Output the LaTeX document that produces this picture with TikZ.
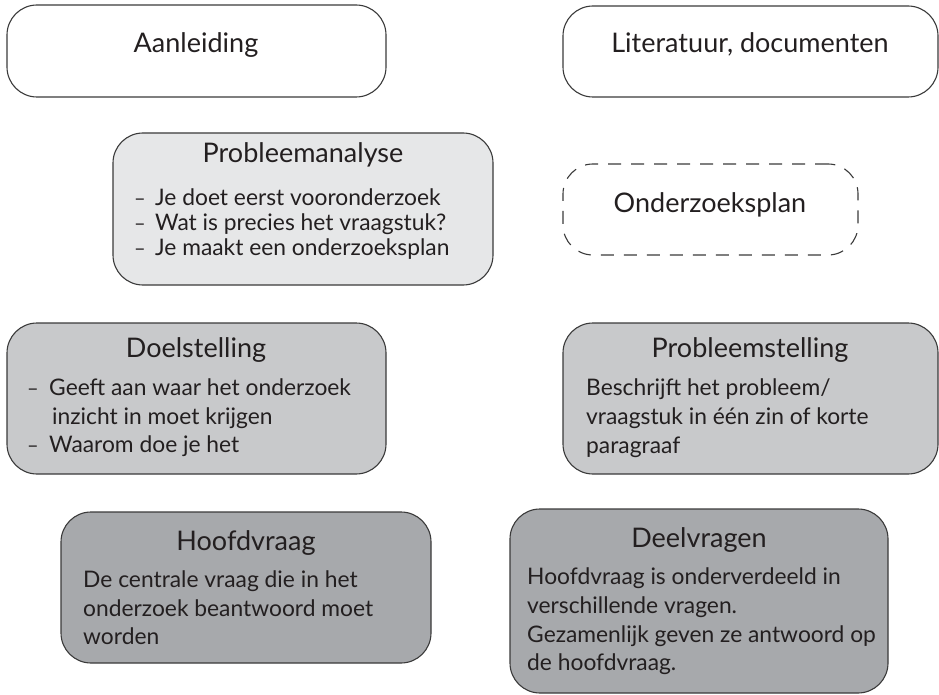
\documentclass[tikz,border=0pt]{standalone}
\usepackage{fontspec}
\setmainfont{Lato}
\definecolor{edge}{HTML}{3A3A3A}
\definecolor{ink}{HTML}{231F20}
\definecolor{fillA}{HTML}{E6E7E8}
\definecolor{fillB}{HTML}{C8C9CB}
\definecolor{fillC}{HTML}{A7A9AC}
\begin{document}
\begin{tikzpicture}[x=1pt,y=-1pt,
  box/.style={draw=edge,line width=1.1pt,rounded corners=30pt,rectangle,inner sep=0pt},
  dashbox/.style={box,dash pattern=on 13pt off 10pt},
  ttl/.style={text=ink,font=\fontsize{27}{31}\selectfont,inner sep=0pt,anchor=mid},
  bodytxt/.style={text=ink,font=\fontsize{22.8}{27}\selectfont,inner sep=0pt,anchor=mid west},
  dashtxt/.style={bodytxt,font=\fontsize{20}{24}\selectfont}]
\useasboundingbox (0,0) rectangle (939,695);
% boxes
\node[box,minimum width=379pt,minimum height=92pt] (aan) at (196.5,51) {};
\node[box,minimum width=375pt,minimum height=91pt] (lit) at (750.5,51.5) {};
\node[box,fill=fillA,minimum width=380pt,minimum height=152pt] (pa) at (303,209) {};
\node[dashbox,minimum width=295pt,minimum height=91pt] (op) at (710.5,209.5) {};
\node[box,fill=fillB,minimum width=379pt,minimum height=151pt] (doel) at (196.5,398.5) {};
\node[box,fill=fillB,minimum width=375pt,minimum height=151pt] (ps) at (750.5,398.5) {};
\node[box,fill=fillC,minimum width=370pt,minimum height=151pt] (hv) at (246,587.5) {};
\node[box,fill=fillC,minimum width=378pt,minimum height=184pt] (dv) at (699,601) {};
% texts
\node[ttl] (aanT) at (196,50) {Aanleiding};
\node[ttl] (litT) at (750,50) {Literatuur, documenten};
\node[ttl] (paT) at (303,160) {Probleemanalyse};
\node[dashtxt] (pa1d) at (134,203) {–};
\node[bodytxt] (pa1) at (155,203) {Je doet eerst vooronderzoek};
\node[dashtxt] (pa2d) at (134,228) {–};
\node[bodytxt] (pa2) at (155,228) {Wat is precies het vraagstuk?};
\node[dashtxt] (pa3d) at (134,253) {–};
\node[bodytxt] (pa3) at (155,253) {Je maakt een onderzoeksplan};
\node[ttl] (opT) at (710,210) {Onderzoeksplan};
\node[ttl] (doelT) at (196,355) {Doelstelling};
\node[dashtxt] (d1d) at (27,393) {–};
\node[bodytxt] (d1) at (49,393) {Geeft aan waar het onderzoek};
\node[bodytxt] (d2) at (52,422) {inzicht in moet krijgen};
\node[dashtxt] (d3d) at (27,450) {–};
\node[bodytxt] (d3) at (49,450) {Waarom doe je het};
\node[ttl] (psT) at (750,355) {Probleemstelling};
\node[bodytxt] (ps1) at (586,393) {Beschrijft het probleem/};
\node[bodytxt] (ps2) at (586,422) {vraagstuk in één zin of korte};
\node[bodytxt] (ps3) at (586,451) {paragraaf};
\node[ttl] (hvT) at (246,548) {Hoofdvraag};
\node[bodytxt] (hv1) at (83,585) {De centrale vraag die in het};
\node[bodytxt] (hv2) at (83,614) {onderzoek beantwoord moet};
\node[bodytxt] (hv3) at (83,642) {worden};
\node[ttl] (dvT) at (699,545) {Deelvragen};
\node[bodytxt] (dv1) at (527,582) {Hoofdvraag is onderverdeeld in};
\node[bodytxt] (dv2) at (527,611) {verschillende vragen.};
\node[bodytxt] (dv3) at (527,640) {Gezamenlijk geven ze antwoord op};
\node[bodytxt] (dv4) at (527,668) {de hoofdvraag.};
\end{tikzpicture}
\end{document}
